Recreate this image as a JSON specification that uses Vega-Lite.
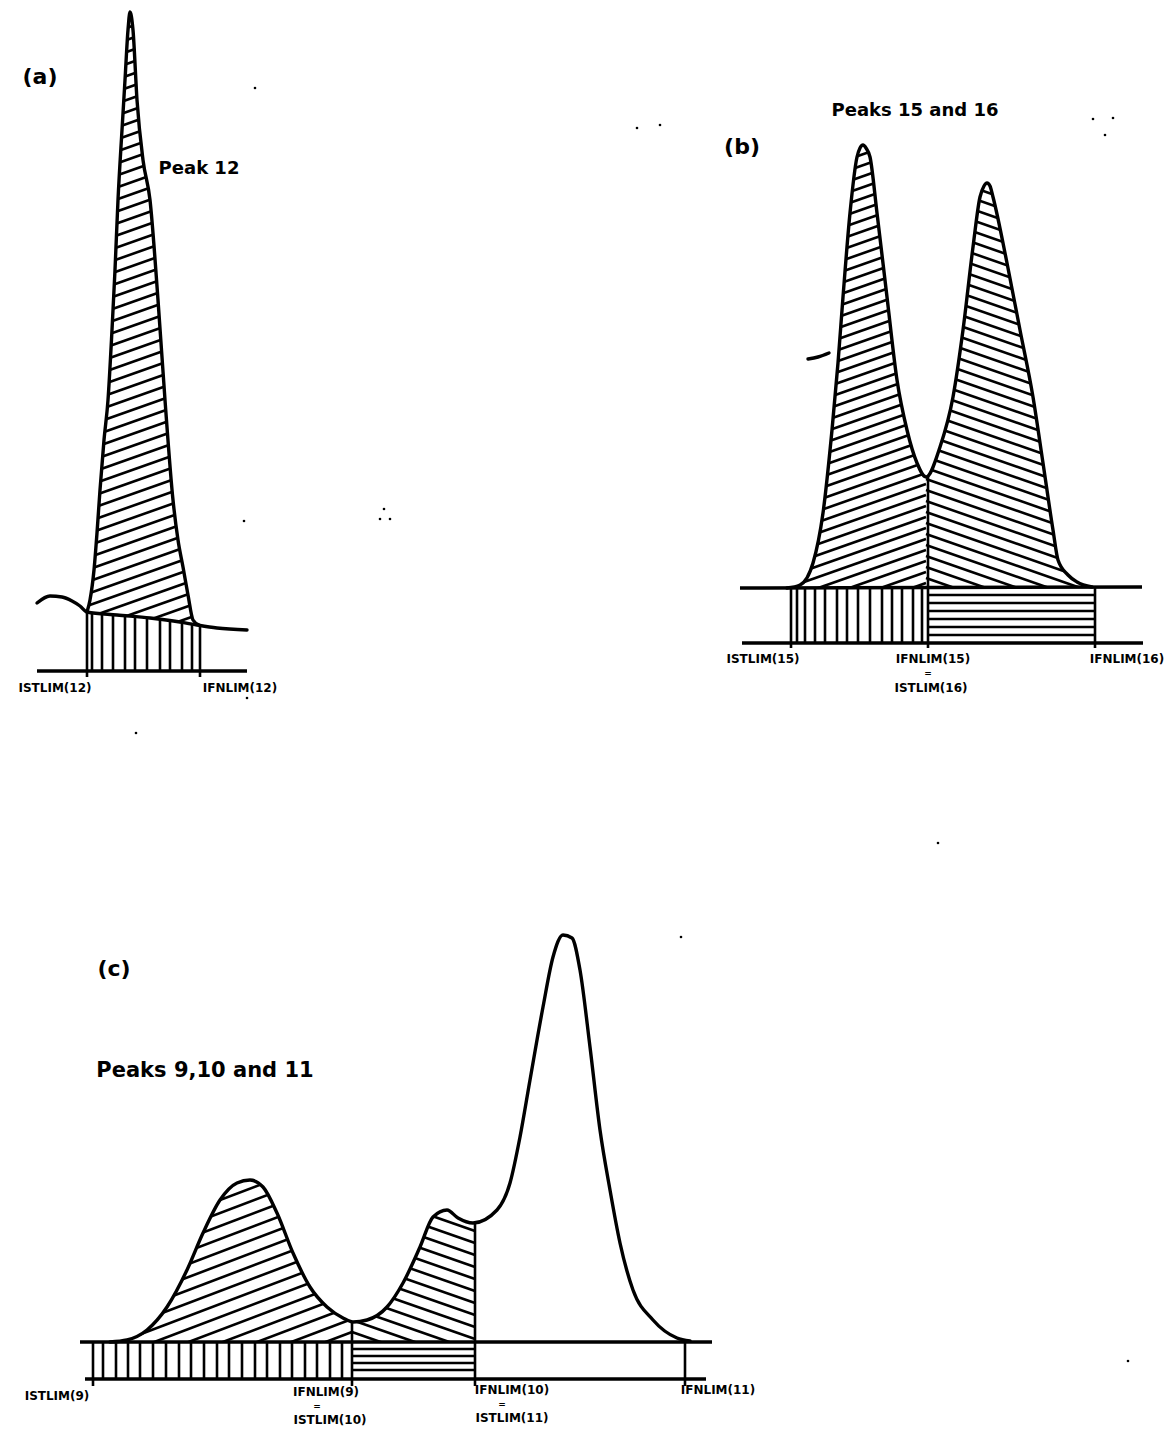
{
  "$schema": "https://vega.github.io/schema/vega-lite/v6.json",
  "width": 1174,
  "height": 1429,
  "autosize": {"type": "fit", "contains": "padding"},
  "padding": 0,
  "background": "white",
  "config": {"view": {"stroke": null}},
  "datasets": {
    "hatch": [
      {"x":87,"y":42,"x2":200,"y2":2},{"x":87,"y":54,"x2":200,"y2":14},{"x":87,"y":66,"x2":200,"y2":26},{"x":87,"y":78,"x2":200,"y2":38},{"x":87,"y":90,"x2":200,"y2":50},{"x":87,"y":102,"x2":200,"y2":62},{"x":87,"y":114,"x2":200,"y2":74},{"x":87,"y":126,"x2":200,"y2":86},{"x":87,"y":138,"x2":200,"y2":98},{"x":87,"y":150,"x2":200,"y2":110},{"x":87,"y":162,"x2":200,"y2":122},{"x":87,"y":174,"x2":200,"y2":134},{"x":87,"y":186,"x2":200,"y2":146},{"x":87,"y":198,"x2":200,"y2":158},{"x":87,"y":210,"x2":200,"y2":170},{"x":87,"y":222,"x2":200,"y2":182},{"x":87,"y":234,"x2":200,"y2":194},{"x":87,"y":246,"x2":200,"y2":206},{"x":87,"y":258,"x2":200,"y2":218},{"x":87,"y":270,"x2":200,"y2":230},{"x":87,"y":282,"x2":200,"y2":242},{"x":87,"y":294,"x2":200,"y2":254},{"x":87,"y":306,"x2":200,"y2":266},{"x":87,"y":318,"x2":200,"y2":278},{"x":87,"y":330,"x2":200,"y2":290},{"x":87,"y":342,"x2":200,"y2":302},{"x":87,"y":354,"x2":200,"y2":314},{"x":87,"y":366,"x2":200,"y2":326},{"x":87,"y":378,"x2":200,"y2":338},{"x":87,"y":390,"x2":200,"y2":350},{"x":87,"y":402,"x2":200,"y2":362},{"x":87,"y":414,"x2":200,"y2":374},{"x":87,"y":426,"x2":200,"y2":386},{"x":87,"y":438,"x2":200,"y2":398},{"x":87,"y":450,"x2":200,"y2":410},{"x":87,"y":462,"x2":200,"y2":422},{"x":87,"y":474,"x2":200,"y2":434},{"x":87,"y":486,"x2":200,"y2":446},{"x":87,"y":498,"x2":200,"y2":458},{"x":87,"y":510,"x2":200,"y2":470},{"x":87,"y":522,"x2":200,"y2":482},{"x":87,"y":534,"x2":200,"y2":494},{"x":87,"y":546,"x2":200,"y2":506},{"x":87,"y":558,"x2":200,"y2":518},{"x":87,"y":570,"x2":200,"y2":530},{"x":87,"y":582,"x2":200,"y2":542},{"x":87,"y":594,"x2":200,"y2":554},{"x":87,"y":606,"x2":200,"y2":566},{"x":87,"y":618,"x2":200,"y2":578},{"x":87,"y":630,"x2":200,"y2":590},{"x":87,"y":642,"x2":200,"y2":602},{"x":87,"y":654,"x2":200,"y2":614},{"x":87,"y":666,"x2":200,"y2":626},

      {"x":787,"y":170,"x2":926,"y2":121},{"x":787,"y":181,"x2":926,"y2":132},{"x":787,"y":192,"x2":926,"y2":143},{"x":787,"y":203,"x2":926,"y2":154},{"x":787,"y":214,"x2":926,"y2":165},{"x":787,"y":225,"x2":926,"y2":176},{"x":787,"y":236,"x2":926,"y2":187},{"x":787,"y":247,"x2":926,"y2":198},{"x":787,"y":258,"x2":926,"y2":209},{"x":787,"y":269,"x2":926,"y2":220},{"x":787,"y":280,"x2":926,"y2":231},{"x":787,"y":291,"x2":926,"y2":242},{"x":787,"y":302,"x2":926,"y2":253},{"x":787,"y":313,"x2":926,"y2":264},{"x":787,"y":324,"x2":926,"y2":275},{"x":787,"y":335,"x2":926,"y2":286},{"x":787,"y":346,"x2":926,"y2":297},{"x":787,"y":357,"x2":926,"y2":308},{"x":787,"y":368,"x2":926,"y2":319},{"x":787,"y":379,"x2":926,"y2":330},{"x":787,"y":390,"x2":926,"y2":341},{"x":787,"y":401,"x2":926,"y2":352},{"x":787,"y":412,"x2":926,"y2":363},{"x":787,"y":423,"x2":926,"y2":374},{"x":787,"y":434,"x2":926,"y2":385},{"x":787,"y":445,"x2":926,"y2":396},{"x":787,"y":456,"x2":926,"y2":407},{"x":787,"y":467,"x2":926,"y2":418},{"x":787,"y":478,"x2":926,"y2":429},{"x":787,"y":489,"x2":926,"y2":440},{"x":787,"y":500,"x2":926,"y2":451},{"x":787,"y":511,"x2":926,"y2":462},{"x":787,"y":522,"x2":926,"y2":473},{"x":787,"y":533,"x2":926,"y2":484},{"x":787,"y":544,"x2":926,"y2":495},{"x":787,"y":555,"x2":926,"y2":506},{"x":787,"y":566,"x2":926,"y2":517},{"x":787,"y":577,"x2":926,"y2":528},{"x":787,"y":588,"x2":926,"y2":539},{"x":787,"y":599,"x2":926,"y2":550},{"x":787,"y":610,"x2":926,"y2":561},{"x":787,"y":621,"x2":926,"y2":572},{"x":787,"y":632,"x2":926,"y2":583},

      {"x":926,"y":160,"x2":1092,"y2":218},{"x":926,"y":171,"x2":1092,"y2":229},{"x":926,"y":182,"x2":1092,"y2":240},{"x":926,"y":193,"x2":1092,"y2":251},{"x":926,"y":204,"x2":1092,"y2":262},{"x":926,"y":215,"x2":1092,"y2":273},{"x":926,"y":226,"x2":1092,"y2":284},{"x":926,"y":237,"x2":1092,"y2":295},{"x":926,"y":248,"x2":1092,"y2":306},{"x":926,"y":259,"x2":1092,"y2":317},{"x":926,"y":270,"x2":1092,"y2":328},{"x":926,"y":281,"x2":1092,"y2":339},{"x":926,"y":292,"x2":1092,"y2":350},{"x":926,"y":303,"x2":1092,"y2":361},{"x":926,"y":314,"x2":1092,"y2":372},{"x":926,"y":325,"x2":1092,"y2":383},{"x":926,"y":336,"x2":1092,"y2":394},{"x":926,"y":347,"x2":1092,"y2":405},{"x":926,"y":358,"x2":1092,"y2":416},{"x":926,"y":369,"x2":1092,"y2":427},{"x":926,"y":380,"x2":1092,"y2":438},{"x":926,"y":391,"x2":1092,"y2":449},{"x":926,"y":402,"x2":1092,"y2":460},{"x":926,"y":413,"x2":1092,"y2":471},{"x":926,"y":424,"x2":1092,"y2":482},{"x":926,"y":435,"x2":1092,"y2":493},{"x":926,"y":446,"x2":1092,"y2":504},{"x":926,"y":457,"x2":1092,"y2":515},{"x":926,"y":468,"x2":1092,"y2":526},{"x":926,"y":479,"x2":1092,"y2":537},{"x":926,"y":490,"x2":1092,"y2":548},{"x":926,"y":501,"x2":1092,"y2":559},{"x":926,"y":512,"x2":1092,"y2":570},{"x":926,"y":523,"x2":1092,"y2":581},{"x":926,"y":534,"x2":1092,"y2":592},{"x":926,"y":545,"x2":1092,"y2":603},{"x":926,"y":556,"x2":1092,"y2":614},{"x":926,"y":567,"x2":1092,"y2":625},{"x":926,"y":578,"x2":1092,"y2":636},

      {"x":120,"y":1225,"x2":352,"y2":1137},{"x":120,"y":1238,"x2":352,"y2":1150},{"x":120,"y":1251,"x2":352,"y2":1163},{"x":120,"y":1264,"x2":352,"y2":1176},{"x":120,"y":1277,"x2":352,"y2":1189},{"x":120,"y":1290,"x2":352,"y2":1202},{"x":120,"y":1303,"x2":352,"y2":1215},{"x":120,"y":1316,"x2":352,"y2":1228},{"x":120,"y":1329,"x2":352,"y2":1241},{"x":120,"y":1342,"x2":352,"y2":1254},{"x":120,"y":1355,"x2":352,"y2":1267},{"x":120,"y":1368,"x2":352,"y2":1280},{"x":120,"y":1381,"x2":352,"y2":1293},{"x":120,"y":1394,"x2":352,"y2":1306},{"x":120,"y":1407,"x2":352,"y2":1319},{"x":120,"y":1420,"x2":352,"y2":1332},

      {"x":352,"y":1176,"x2":475,"y2":1219},{"x":352,"y":1188,"x2":475,"y2":1231},{"x":352,"y":1200,"x2":475,"y2":1243},{"x":352,"y":1212,"x2":475,"y2":1255},{"x":352,"y":1224,"x2":475,"y2":1267},{"x":352,"y":1236,"x2":475,"y2":1279},{"x":352,"y":1248,"x2":475,"y2":1291},{"x":352,"y":1260,"x2":475,"y2":1303},{"x":352,"y":1272,"x2":475,"y2":1315},{"x":352,"y":1284,"x2":475,"y2":1327},{"x":352,"y":1296,"x2":475,"y2":1339},{"x":352,"y":1308,"x2":475,"y2":1351},{"x":352,"y":1320,"x2":475,"y2":1363},{"x":352,"y":1332,"x2":475,"y2":1375}
    ],
    "masks": [
      {"m":"a1","x":86,"top":0,"bot":612},{"m":"a1","x":87,"top":0,"bot":612},{"m":"a1","x":90,"top":0,"bot":600},{"m":"a1","x":94,"top":0,"bot":570},{"m":"a1","x":97,"top":0,"bot":533},{"m":"a1","x":100,"top":0,"bot":490},{"m":"a1","x":104,"top":0,"bot":440},{"m":"a1","x":108,"top":0,"bot":400},{"m":"a1","x":112,"top":0,"bot":330},{"m":"a1","x":115,"top":0,"bot":270},{"m":"a1","x":118,"top":0,"bot":200},{"m":"a1","x":122,"top":0,"bot":130},{"m":"a1","x":125,"top":0,"bot":80},{"m":"a1","x":128,"top":0,"bot":30},{"m":"a1","x":130,"top":0,"bot":12},{"m":"a1","x":133,"top":0,"bot":30},{"m":"a1","x":137,"top":0,"bot":100},{"m":"a1","x":143,"top":0,"bot":160},{"m":"a1","x":150,"top":0,"bot":200},{"m":"a1","x":158,"top":0,"bot":300},{"m":"a1","x":165,"top":0,"bot":400},{"m":"a1","x":173,"top":0,"bot":500},{"m":"a1","x":178,"top":0,"bot":540},{"m":"a1","x":183,"top":0,"bot":567},{"m":"a1","x":188,"top":0,"bot":595},{"m":"a1","x":193,"top":0,"bot":620},{"m":"a1","x":199,"top":0,"bot":625},{"m":"a1","x":204,"top":0,"bot":627},
      {"m":"a2","x":86,"top":611,"bot":700},{"m":"a2","x":117,"top":615,"bot":700},{"m":"a2","x":150,"top":618,"bot":700},{"m":"a2","x":180,"top":622,"bot":700},{"m":"a2","x":197,"top":625,"bot":700},{"m":"a2","x":204,"top":627,"bot":700},
      {"m":"b1","x":785,"top":110,"bot":588},{"m":"b1","x":787,"top":110,"bot":588},{"m":"b1","x":800,"top":110,"bot":585},{"m":"b1","x":813,"top":110,"bot":563},{"m":"b1","x":823,"top":110,"bot":513},{"m":"b1","x":832,"top":110,"bot":430},{"m":"b1","x":838,"top":110,"bot":363},{"m":"b1","x":843,"top":110,"bot":297},{"m":"b1","x":850,"top":110,"bot":213},{"m":"b1","x":857,"top":110,"bot":157},{"m":"b1","x":860,"top":110,"bot":148},{"m":"b1","x":863,"top":110,"bot":145},{"m":"b1","x":866,"top":110,"bot":148},{"m":"b1","x":870,"top":110,"bot":157},{"m":"b1","x":877,"top":110,"bot":213},{"m":"b1","x":887,"top":110,"bot":297},{"m":"b1","x":897,"top":110,"bot":380},{"m":"b1","x":907,"top":110,"bot":430},{"m":"b1","x":917,"top":110,"bot":463},{"m":"b1","x":926,"top":110,"bot":477},{"m":"b1","x":940,"top":110,"bot":447},{"m":"b1","x":953,"top":110,"bot":397},{"m":"b1","x":963,"top":110,"bot":330},{"m":"b1","x":973,"top":110,"bot":247},{"m":"b1","x":980,"top":110,"bot":197},{"m":"b1","x":984,"top":110,"bot":186},{"m":"b1","x":987,"top":110,"bot":183},{"m":"b1","x":990,"top":110,"bot":186},{"m":"b1","x":993,"top":110,"bot":197},{"m":"b1","x":1007,"top":110,"bot":263},{"m":"b1","x":1020,"top":110,"bot":330},{"m":"b1","x":1033,"top":110,"bot":397},{"m":"b1","x":1043,"top":110,"bot":463},{"m":"b1","x":1053,"top":110,"bot":530},{"m":"b1","x":1058,"top":110,"bot":560},{"m":"b1","x":1068,"top":110,"bot":575},{"m":"b1","x":1077,"top":110,"bot":582},{"m":"b1","x":1092,"top":110,"bot":587},{"m":"b1","x":1095,"top":110,"bot":588},
      {"m":"b2","x":785,"top":588,"bot":700},{"m":"b2","x":1095,"top":588,"bot":700},
      {"m":"c1","x":118,"top":1120,"bot":1342},{"m":"c1","x":127,"top":1120,"bot":1340},{"m":"c1","x":147,"top":1120,"bot":1330},{"m":"c1","x":167,"top":1120,"bot":1307},{"m":"c1","x":187,"top":1120,"bot":1270},{"m":"c1","x":203,"top":1120,"bot":1233},{"m":"c1","x":220,"top":1120,"bot":1200},{"m":"c1","x":237,"top":1120,"bot":1183},{"m":"c1","x":250,"top":1120,"bot":1180},{"m":"c1","x":263,"top":1120,"bot":1187},{"m":"c1","x":277,"top":1120,"bot":1213},{"m":"c1","x":293,"top":1120,"bot":1253},{"m":"c1","x":310,"top":1120,"bot":1287},{"m":"c1","x":327,"top":1120,"bot":1307},{"m":"c1","x":343,"top":1120,"bot":1318},{"m":"c1","x":353,"top":1120,"bot":1322},{"m":"c1","x":367,"top":1120,"bot":1320},{"m":"c1","x":387,"top":1120,"bot":1307},{"m":"c1","x":403,"top":1120,"bot":1283},{"m":"c1","x":420,"top":1120,"bot":1247},{"m":"c1","x":433,"top":1120,"bot":1217},{"m":"c1","x":447,"top":1120,"bot":1210},{"m":"c1","x":458,"top":1120,"bot":1218},{"m":"c1","x":473,"top":1120,"bot":1223},{"m":"c1","x":477,"top":1120,"bot":1223},
      {"m":"c2","x":118,"top":1342,"bot":1429},{"m":"c2","x":477,"top":1342,"bot":1429}
    ],
    "segs": [
      {"x":87,"y":612,"x2":87,"y2":677},{"x":200,"y":625,"x2":200,"y2":677},
      {"x":92,"y":612,"x2":92,"y2":671},{"x":102,"y":613,"x2":102,"y2":671},{"x":113,"y":614,"x2":113,"y2":671},{"x":125,"y":616,"x2":125,"y2":671},{"x":135,"y":617,"x2":135,"y2":671},{"x":147,"y":618,"x2":147,"y2":671},{"x":160,"y":619,"x2":160,"y2":671},{"x":170,"y":621,"x2":170,"y2":671},{"x":182,"y":622,"x2":182,"y2":671},{"x":192,"y":624,"x2":192,"y2":671},
      {"x":791,"y":588,"x2":791,"y2":648},{"x":928,"y":477,"x2":928,"y2":648},{"x":1095,"y":588,"x2":1095,"y2":648},
      {"x":797,"y":588,"x2":797,"y2":643},{"x":805,"y":588,"x2":805,"y2":643},{"x":815,"y":588,"x2":815,"y2":643},{"x":825,"y":588,"x2":825,"y2":643},{"x":837,"y":588,"x2":837,"y2":643},{"x":847,"y":588,"x2":847,"y2":643},{"x":858,"y":588,"x2":858,"y2":643},{"x":870,"y":588,"x2":870,"y2":643},{"x":882,"y":588,"x2":882,"y2":643},{"x":892,"y":588,"x2":892,"y2":643},{"x":902,"y":588,"x2":902,"y2":643},{"x":913,"y":588,"x2":913,"y2":643},{"x":922,"y":588,"x2":922,"y2":643},
      {"x":928,"y":595,"x2":1095,"y2":595},{"x":928,"y":603,"x2":1095,"y2":603},{"x":928,"y":611,"x2":1095,"y2":611},{"x":928,"y":619,"x2":1095,"y2":619},{"x":928,"y":627,"x2":1095,"y2":627},{"x":928,"y":635,"x2":1095,"y2":635},
      {"x":93,"y":1342,"x2":93,"y2":1386},{"x":352,"y":1322,"x2":352,"y2":1386},{"x":475,"y":1223,"x2":475,"y2":1386},{"x":685,"y":1342,"x2":685,"y2":1386},
      {"x":103,"y":1342,"x2":103,"y2":1379},{"x":116,"y":1342,"x2":116,"y2":1379},{"x":128,"y":1342,"x2":128,"y2":1379},{"x":140,"y":1342,"x2":140,"y2":1379},{"x":153,"y":1342,"x2":153,"y2":1379},{"x":166,"y":1342,"x2":166,"y2":1379},{"x":179,"y":1342,"x2":179,"y2":1379},{"x":191,"y":1342,"x2":191,"y2":1379},{"x":204,"y":1342,"x2":204,"y2":1379},{"x":217,"y":1342,"x2":217,"y2":1379},{"x":229,"y":1342,"x2":229,"y2":1379},{"x":242,"y":1342,"x2":242,"y2":1379},{"x":255,"y":1342,"x2":255,"y2":1379},{"x":267,"y":1342,"x2":267,"y2":1379},{"x":280,"y":1342,"x2":280,"y2":1379},{"x":292,"y":1342,"x2":292,"y2":1379},{"x":305,"y":1342,"x2":305,"y2":1379},{"x":317,"y":1342,"x2":317,"y2":1379},{"x":330,"y":1342,"x2":330,"y2":1379},{"x":342,"y":1342,"x2":342,"y2":1379},
      {"x":352,"y":1349,"x2":475,"y2":1349},{"x":352,"y":1356,"x2":475,"y2":1356},{"x":352,"y":1363,"x2":475,"y2":1363},{"x":352,"y":1370,"x2":475,"y2":1370}
    ],
    "axes": [
      {"x":37,"y":671,"x2":247,"y2":671},
      {"x":742,"y":643,"x2":1143,"y2":643},
      {"x":85,"y":1379,"x2":706,"y2":1379},
      {"x":740,"y":588,"x2":1142,"y2":587},
      {"x":80,"y":1342,"x2":712,"y2":1342}
    ],
    "curves": [
      {"c":"abase","i":0,"x":37,"y":603},{"c":"abase","i":1,"x":50,"y":596},{"c":"abase","i":2,"x":62,"y":597},{"c":"abase","i":3,"x":72,"y":601},{"c":"abase","i":4,"x":80,"y":606},{"c":"abase","i":5,"x":87,"y":612},{"c":"abase","i":6,"x":117,"y":615},{"c":"abase","i":7,"x":150,"y":618},{"c":"abase","i":8,"x":180,"y":622},{"c":"abase","i":9,"x":197,"y":625},{"c":"abase","i":10,"x":217,"y":628},{"c":"abase","i":11,"x":247,"y":630},
      {"c":"apeak","i":0,"x":87,"y":612},{"c":"apeak","i":1,"x":90,"y":600},{"c":"apeak","i":2,"x":94,"y":570},{"c":"apeak","i":3,"x":97,"y":533},{"c":"apeak","i":4,"x":100,"y":490},{"c":"apeak","i":5,"x":104,"y":440},{"c":"apeak","i":6,"x":108,"y":400},{"c":"apeak","i":7,"x":112,"y":330},{"c":"apeak","i":8,"x":115,"y":270},{"c":"apeak","i":9,"x":118,"y":200},{"c":"apeak","i":10,"x":122,"y":130},{"c":"apeak","i":11,"x":125,"y":80},{"c":"apeak","i":12,"x":128,"y":30},{"c":"apeak","i":13,"x":130,"y":12},{"c":"apeak","i":14,"x":133,"y":30},{"c":"apeak","i":15,"x":137,"y":100},{"c":"apeak","i":16,"x":143,"y":160},{"c":"apeak","i":17,"x":150,"y":200},{"c":"apeak","i":18,"x":158,"y":300},{"c":"apeak","i":19,"x":165,"y":400},{"c":"apeak","i":20,"x":173,"y":500},{"c":"apeak","i":21,"x":178,"y":540},{"c":"apeak","i":22,"x":183,"y":567},{"c":"apeak","i":23,"x":188,"y":595},{"c":"apeak","i":24,"x":193,"y":620},{"c":"apeak","i":25,"x":199,"y":625},
      {"c":"bpeak","i":0,"x":787,"y":588},{"c":"bpeak","i":1,"x":800,"y":585},{"c":"bpeak","i":2,"x":813,"y":563},{"c":"bpeak","i":3,"x":823,"y":513},{"c":"bpeak","i":4,"x":832,"y":430},{"c":"bpeak","i":5,"x":838,"y":363},{"c":"bpeak","i":6,"x":843,"y":297},{"c":"bpeak","i":7,"x":850,"y":213},{"c":"bpeak","i":8,"x":857,"y":157},{"c":"bpeak","i":9,"x":860,"y":148},{"c":"bpeak","i":10,"x":863,"y":145},{"c":"bpeak","i":11,"x":866,"y":148},{"c":"bpeak","i":12,"x":870,"y":157},{"c":"bpeak","i":13,"x":877,"y":213},{"c":"bpeak","i":14,"x":887,"y":297},{"c":"bpeak","i":15,"x":897,"y":380},{"c":"bpeak","i":16,"x":907,"y":430},{"c":"bpeak","i":17,"x":917,"y":463},{"c":"bpeak","i":18,"x":926,"y":477},{"c":"bpeak","i":19,"x":940,"y":447},{"c":"bpeak","i":20,"x":953,"y":397},{"c":"bpeak","i":21,"x":963,"y":330},{"c":"bpeak","i":22,"x":973,"y":247},{"c":"bpeak","i":23,"x":980,"y":197},{"c":"bpeak","i":24,"x":984,"y":186},{"c":"bpeak","i":25,"x":987,"y":183},{"c":"bpeak","i":26,"x":990,"y":186},{"c":"bpeak","i":27,"x":993,"y":197},{"c":"bpeak","i":28,"x":1007,"y":263},{"c":"bpeak","i":29,"x":1020,"y":330},{"c":"bpeak","i":30,"x":1033,"y":397},{"c":"bpeak","i":31,"x":1043,"y":463},{"c":"bpeak","i":32,"x":1053,"y":530},{"c":"bpeak","i":33,"x":1058,"y":560},{"c":"bpeak","i":34,"x":1068,"y":575},{"c":"bpeak","i":35,"x":1077,"y":582},{"c":"bpeak","i":36,"x":1092,"y":587},
      {"c":"cpeak","i":0,"x":110,"y":1342},{"c":"cpeak","i":1,"x":127,"y":1340},{"c":"cpeak","i":2,"x":147,"y":1330},{"c":"cpeak","i":3,"x":167,"y":1307},{"c":"cpeak","i":4,"x":187,"y":1270},{"c":"cpeak","i":5,"x":203,"y":1233},{"c":"cpeak","i":6,"x":220,"y":1200},{"c":"cpeak","i":7,"x":237,"y":1183},{"c":"cpeak","i":8,"x":250,"y":1180},{"c":"cpeak","i":9,"x":263,"y":1187},{"c":"cpeak","i":10,"x":277,"y":1213},{"c":"cpeak","i":11,"x":293,"y":1253},{"c":"cpeak","i":12,"x":310,"y":1287},{"c":"cpeak","i":13,"x":327,"y":1307},{"c":"cpeak","i":14,"x":343,"y":1318},{"c":"cpeak","i":15,"x":353,"y":1322},{"c":"cpeak","i":16,"x":367,"y":1320},{"c":"cpeak","i":17,"x":387,"y":1307},{"c":"cpeak","i":18,"x":403,"y":1283},{"c":"cpeak","i":19,"x":420,"y":1247},{"c":"cpeak","i":20,"x":433,"y":1217},{"c":"cpeak","i":21,"x":447,"y":1210},{"c":"cpeak","i":22,"x":458,"y":1218},{"c":"cpeak","i":23,"x":473,"y":1223},{"c":"cpeak","i":24,"x":497,"y":1210},{"c":"cpeak","i":25,"x":510,"y":1183},{"c":"cpeak","i":26,"x":520,"y":1137},{"c":"cpeak","i":27,"x":530,"y":1080},{"c":"cpeak","i":28,"x":543,"y":1007},{"c":"cpeak","i":29,"x":553,"y":957},{"c":"cpeak","i":30,"x":563,"y":935},{"c":"cpeak","i":31,"x":572,"y":938},{"c":"cpeak","i":32,"x":580,"y":970},{"c":"cpeak","i":33,"x":590,"y":1047},{"c":"cpeak","i":34,"x":600,"y":1130},{"c":"cpeak","i":35,"x":610,"y":1190},{"c":"cpeak","i":36,"x":620,"y":1243},{"c":"cpeak","i":37,"x":633,"y":1290},{"c":"cpeak","i":38,"x":653,"y":1320},{"c":"cpeak","i":39,"x":677,"y":1338},{"c":"cpeak","i":40,"x":690,"y":1341},
      {"c":"dash","i":0,"x":808,"y":359},{"c":"dash","i":1,"x":818,"y":357},{"c":"dash","i":2,"x":829,"y":353}
    ],
    "dots": [
      {"x":637,"y":128},{"x":660,"y":125},{"x":1093,"y":119},{"x":1113,"y":118},{"x":1105,"y":135},{"x":938,"y":843},{"x":681,"y":937},{"x":244,"y":521},{"x":255,"y":88},{"x":247,"y":698},{"x":136,"y":733},{"x":380,"y":519},{"x":384,"y":509},{"x":390,"y":519},{"x":1128,"y":1361}
    ],
    "texts": [
      {"k":"panel","t":"(a)","x":40,"y":77},
      {"k":"panel","t":"(b)","x":742,"y":147},
      {"k":"panel","t":"(c)","x":114,"y":969},
      {"k":"title","t":"Peak 12","x":199,"y":169},
      {"k":"title","t":"Peaks 15 and 16","x":915,"y":111},
      {"k":"bigtitle","t":"Peaks 9,10 and 11","x":205,"y":1071},
      {"k":"label","t":"ISTLIM(12)","x":55,"y":688},
      {"k":"label","t":"IFNLIM(12)","x":240,"y":688},
      {"k":"label","t":"ISTLIM(15)","x":763,"y":659},
      {"k":"label","t":"IFNLIM(15)","x":933,"y":659},
      {"k":"eq","t":"=","x":928,"y":673},
      {"k":"label","t":"ISTLIM(16)","x":931,"y":688},
      {"k":"label","t":"IFNLIM(16)","x":1127,"y":659},
      {"k":"label","t":"ISTLIM(9)","x":57,"y":1396},
      {"k":"label","t":"IFNLIM(9)","x":326,"y":1392},
      {"k":"eq","t":"=","x":317,"y":1406},
      {"k":"label","t":"ISTLIM(10)","x":330,"y":1420},
      {"k":"label","t":"IFNLIM(10)","x":512,"y":1390},
      {"k":"eq","t":"=","x":502,"y":1404},
      {"k":"label","t":"ISTLIM(11)","x":512,"y":1418},
      {"k":"label","t":"IFNLIM(11)","x":718,"y":1390}
    ]
  },
  "layer": [
    {
      "data": {"name": "hatch"},
      "mark": {"type": "rule", "color": "black", "strokeWidth": 2.6},
      "encoding": {
        "x": {"field": "x", "type": "quantitative", "scale": {"domain": [0, 1174], "nice": false, "zero": false}, "axis": null},
        "y": {"field": "y", "type": "quantitative", "scale": {"domain": [0, 1429], "nice": false, "zero": false, "reverse": true}, "axis": null},
        "x2": {"field": "x2"},
        "y2": {"field": "y2"}
      }
    },
    {
      "data": {"name": "masks"},
      "mark": {"type": "area", "color": "white", "opacity": 1, "interpolate": "monotone"},
      "encoding": {
        "x": {"field": "x", "type": "quantitative"},
        "y": {"field": "top", "type": "quantitative", "stack": null},
        "y2": {"field": "bot"},
        "detail": {"field": "m"}
      }
    },
    {
      "data": {"name": "segs"},
      "mark": {"type": "rule", "color": "black", "strokeWidth": 2.6},
      "encoding": {
        "x": {"field": "x", "type": "quantitative"},
        "y": {"field": "y", "type": "quantitative"},
        "x2": {"field": "x2"},
        "y2": {"field": "y2"}
      }
    },
    {
      "data": {"name": "axes"},
      "mark": {"type": "rule", "color": "black", "strokeWidth": 3.4},
      "encoding": {
        "x": {"field": "x", "type": "quantitative"},
        "y": {"field": "y", "type": "quantitative"},
        "x2": {"field": "x2"},
        "y2": {"field": "y2"}
      }
    },
    {
      "data": {"name": "curves"},
      "mark": {"type": "line", "color": "black", "strokeWidth": 3.4, "strokeJoin": "round", "strokeCap": "round", "interpolate": "monotone"},
      "encoding": {
        "x": {"field": "x", "type": "quantitative"},
        "y": {"field": "y", "type": "quantitative"},
        "detail": {"field": "c"},
        "order": {"field": "i", "type": "quantitative"}
      }
    },
    {
      "data": {"name": "dots"},
      "mark": {"type": "circle", "color": "black", "size": 7, "opacity": 1},
      "encoding": {
        "x": {"field": "x", "type": "quantitative"},
        "y": {"field": "y", "type": "quantitative"}
      }
    },
    {
      "data": {"name": "texts"},
      "transform": [{"filter": "datum.k === 'panel'"}],
      "mark": {"type": "text", "font": "DejaVu Sans", "fontWeight": "bold", "fontSize": 22, "align": "center", "baseline": "middle", "color": "black"},
      "encoding": {
        "x": {"field": "x", "type": "quantitative"},
        "y": {"field": "y", "type": "quantitative"},
        "text": {"field": "t"}
      }
    },
    {
      "data": {"name": "texts"},
      "transform": [{"filter": "datum.k === 'title'"}],
      "mark": {"type": "text", "font": "DejaVu Sans", "fontWeight": "bold", "fontSize": 18, "align": "center", "baseline": "middle", "color": "black"},
      "encoding": {
        "x": {"field": "x", "type": "quantitative"},
        "y": {"field": "y", "type": "quantitative"},
        "text": {"field": "t"}
      }
    },
    {
      "data": {"name": "texts"},
      "transform": [{"filter": "datum.k === 'bigtitle'"}],
      "mark": {"type": "text", "font": "DejaVu Sans", "fontWeight": "bold", "fontSize": 21, "align": "center", "baseline": "middle", "color": "black"},
      "encoding": {
        "x": {"field": "x", "type": "quantitative"},
        "y": {"field": "y", "type": "quantitative"},
        "text": {"field": "t"}
      }
    },
    {
      "data": {"name": "texts"},
      "transform": [{"filter": "datum.k === 'label'"}],
      "mark": {"type": "text", "font": "DejaVu Sans", "fontWeight": "bold", "fontSize": 12, "align": "center", "baseline": "middle", "color": "black"},
      "encoding": {
        "x": {"field": "x", "type": "quantitative"},
        "y": {"field": "y", "type": "quantitative"},
        "text": {"field": "t"}
      }
    },
    {
      "data": {"name": "texts"},
      "transform": [{"filter": "datum.k === 'eq'"}],
      "mark": {"type": "text", "font": "DejaVu Sans", "fontWeight": "bold", "fontSize": 9, "align": "center", "baseline": "middle", "color": "black"},
      "encoding": {
        "x": {"field": "x", "type": "quantitative"},
        "y": {"field": "y", "type": "quantitative"},
        "text": {"field": "t"}
      }
    }
  ]
}
